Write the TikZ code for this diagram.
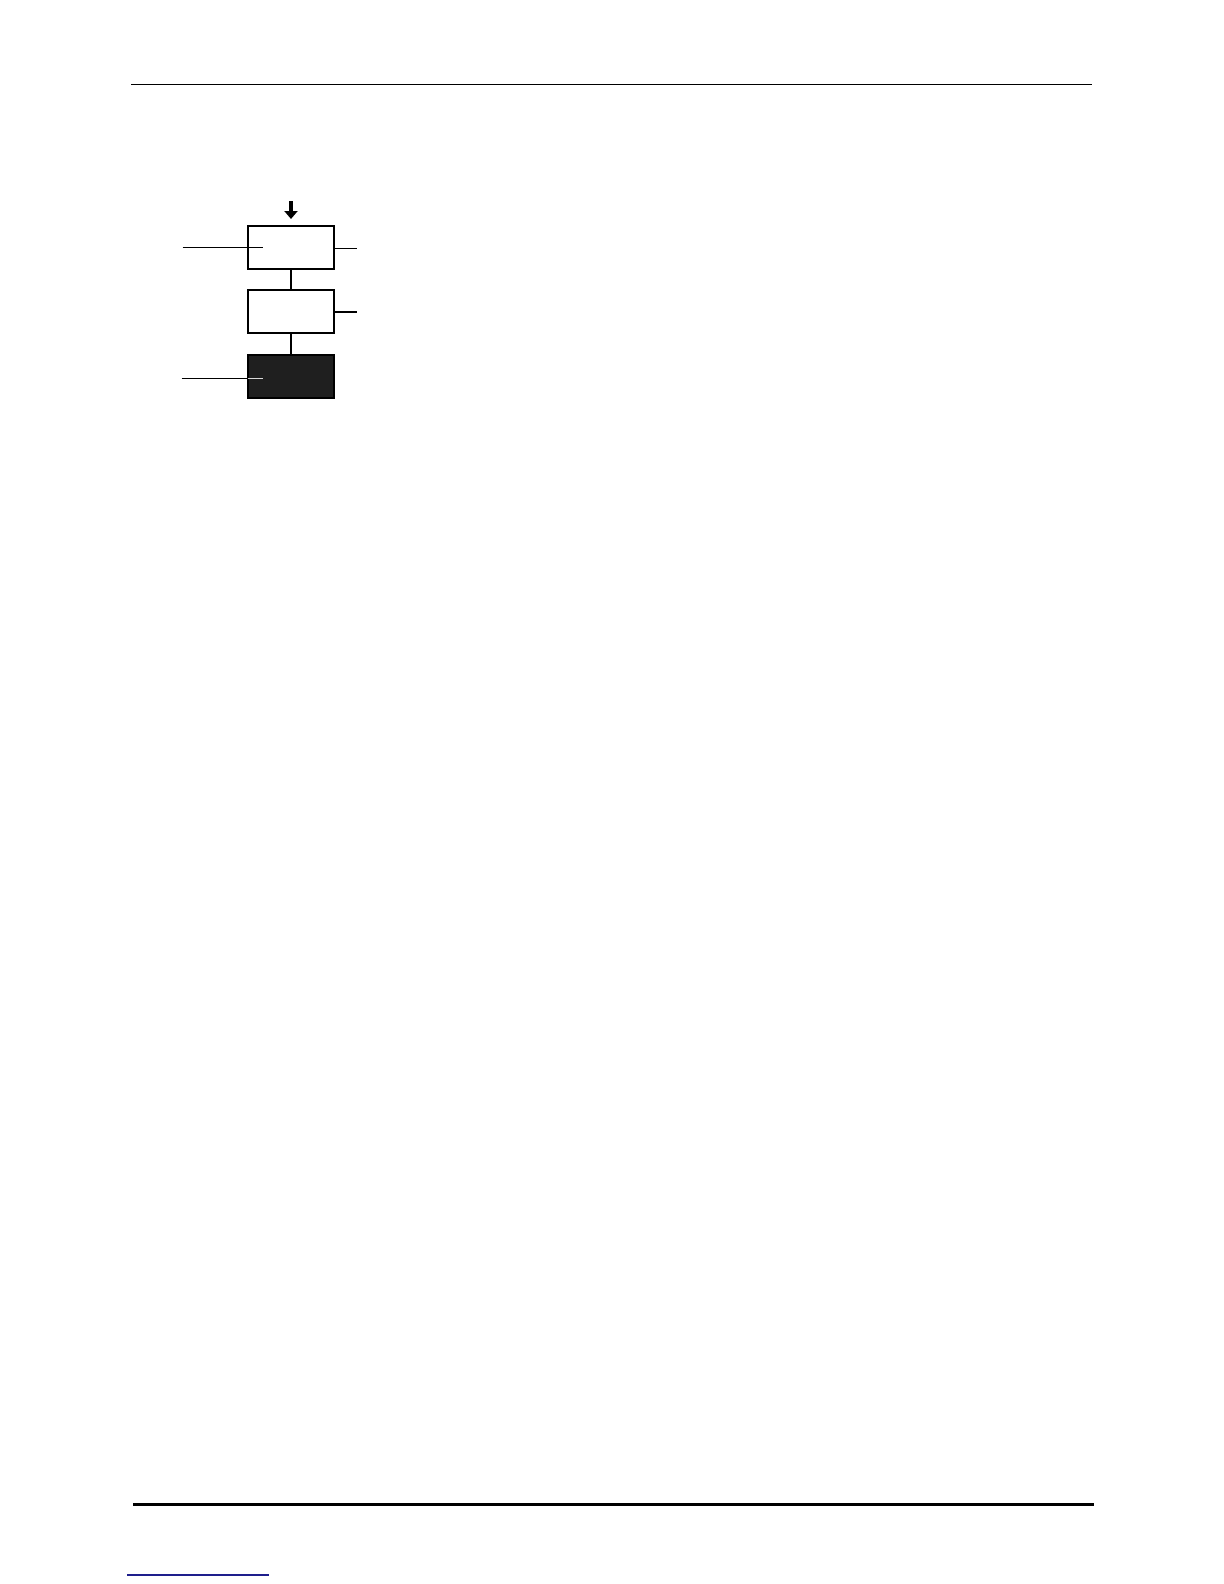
\documentclass[tikz,border=0pt]{standalone}
\usetikzlibrary{arrows.meta}
\begin{document}
\begin{tikzpicture}[x=0.5bp,y=-0.5bp,
  box/.style={draw=black,line width=1.2bp,minimum width=43bp,minimum height=21.5bp,inner sep=0pt,fill=white},
  darkbox/.style={box,fill=black!88},
  conn/.style={line width=1.1bp},
  leader/.style={line width=0.55bp},
  rule/.style={line width=0.7bp}]
\useasboundingbox (0,0) rectangle (1224,1584);
% header and footer rules
\coordinate (hl) at (131,84.3);
\coordinate (hr) at (1092,84.3);
\draw[rule] (hl) -- (hr);
\coordinate (fl) at (133,1504.5);
\coordinate (fr) at (1094,1504.5);
\draw[line width=1.4bp] (fl) -- (fr);
\coordinate (ul) at (127,1575);
\coordinate (ur) at (269,1575);
\draw[line width=0.6bp,color={rgb,255:red,30;green,30;blue,140}] (ul) -- (ur);
% boxes
\node[box] (b1) at (291,247.5) {};
\node[box] (b2) at (291,311.3) {};
\node[darkbox] (b3) at (291,376.3) {};
% entry arrow
\coordinate (at) at (291,201);
\coordinate (ah) at (291,219);
\draw[line width=2bp,-{Triangle[width=6.5bp,length=4bp]}] (at) -- (ah);
% connectors between boxes
\draw[conn] (b1.south) -- (b2.north);
\draw[conn] (b2.south) -- (b3.north);
% leader lines
\coordinate (l1a) at (182.7,247.3);
\coordinate (l1b) at (262.7,247.3);
\draw[leader] (l1a) -- (l1b);
\coordinate (r1) at (357,248.3);
\draw[leader] (b1.east |- r1) -- (r1);
\coordinate (r2) at (357,311.7);
\draw[conn] (b2.east |- r2) -- (r2);
\coordinate (l3a) at (181.7,378.3);
\coordinate (l3m) at (247.7,378.3);
\coordinate (l3b) at (262.7,378.3);
\draw[leader] (l3a) -- (l3m);
\draw[leader,color=black!15] (l3m) -- (l3b);
\end{tikzpicture}
\end{document}
